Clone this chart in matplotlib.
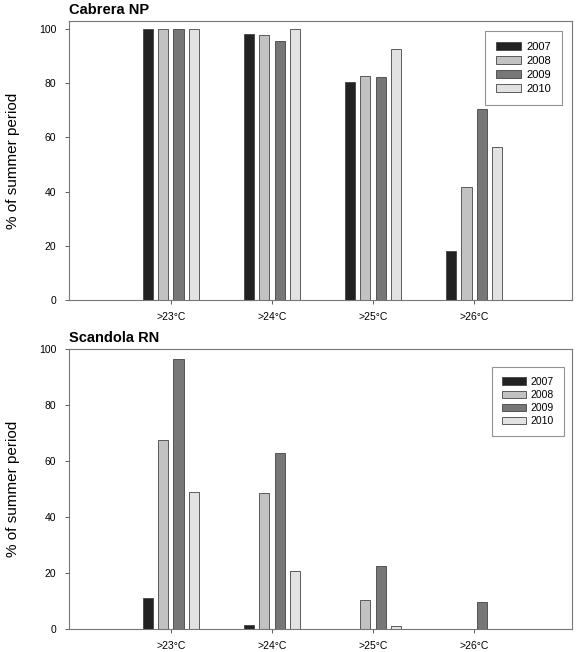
"""Percentage of summer period above temperature thresholds"""
import numpy as np
from matplotlib import pyplot as plt

plt.rcParams['font.family'] = ['Liberation Sans', 'DejaVu Sans']

thresholds = [">23°C", ">24°C", ">25°C", ">26°C"]
years = ["2007", "2008", "2009", "2010"]
colors = ["#222222", "#c2c2c2", "#777777", "#e2e2e2"]

# Cabrera NP
cabrera_2007 = [100, 98.2, 80.4, 18.0]
cabrera_2008 = [100, 97.7, 82.5, 41.6]
cabrera_2009 = [100, 95.6, 82.2, 70.3]
cabrera_2010 = [100, 100, 92.6, 56.5]

# Scandola RN
scandola_2007 = [11.0, 1.3, 0, 0]
scandola_2008 = [67.5, 48.5, 10.3, 0]
scandola_2009 = [96.5, 62.8, 22.5, 9.5]
scandola_2010 = [49.0, 20.7, 1.1, 0]

panels = [
    ("Cabrera NP", [cabrera_2007, cabrera_2008, cabrera_2009, cabrera_2010], 103),
    ("Scandola RN", [scandola_2007, scandola_2008, scandola_2009, scandola_2010], 100),
]

fig = plt.figure(figsize=(5.79, 6.52), dpi=100)
ax_top = fig.add_axes([0.119, 0.540, 0.869, 0.428])
ax_bot = fig.add_axes([0.119, 0.0353, 0.869, 0.4294])

x = np.arange(len(thresholds))
offsets = [-0.225, -0.075, 0.075, 0.225]

for ax, (title, series, ytop) in zip([ax_top, ax_bot], panels):
    for vals, off, col, yr in zip(series, offsets, colors, years):
        ax.bar(x + off, vals, width=0.1, color=col, edgecolor="#444444",
               linewidth=0.6, label=yr)
    ax.set_xlim(-1.01, 3.97)
    ax.set_ylim(0, ytop)
    ax.set_yticks([0, 20, 40, 60, 80, 100])
    ax.set_xticks(x)
    ax.set_xticklabels(thresholds)
    ax.tick_params(labelsize=7.5, length=3, width=0.6, color="#444444", pad=6)
    for s in ax.spines.values():
        s.set_color("#777777")
        s.set_linewidth(0.8)
    ax.set_ylabel("% of summer period", fontsize=11, labelpad=14)
    ax.set_title(title, loc="left", fontsize=10.5, fontweight="bold", pad=5)

ax_top.legend(loc="upper right", bbox_to_anchor=(0.980, 0.964), fontsize=8,
              frameon=True, fancybox=False, edgecolor="#777777",
              handlelength=2.2, handleheight=0.75, handletextpad=0.5,
              borderpad=1.0, labelspacing=0.35, borderaxespad=0)
ax_bot.legend(loc="upper right", bbox_to_anchor=(0.984, 0.936), fontsize=7.5,
              frameon=True, fancybox=False, edgecolor="#777777",
              handlelength=2.3, handleheight=0.75, handletextpad=0.5,
              borderpad=0.95, labelspacing=0.3, borderaxespad=0)
for leg in [ax_top.get_legend(), ax_bot.get_legend()]:
    leg.get_frame().set_linewidth(0.8)

plt.savefig("out.png", dpi=100)
